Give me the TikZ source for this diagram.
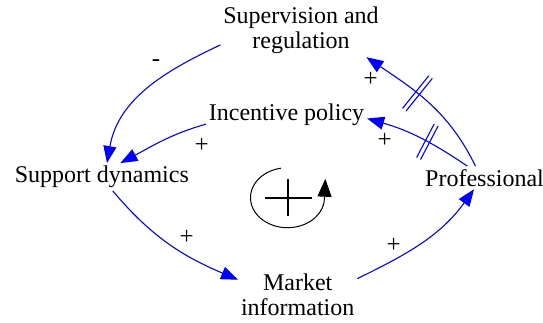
\documentclass[tikz,border=0pt]{standalone}
\usepackage{fontspec}
\setmainfont{Liberation Serif}
\usetikzlibrary{arrows.meta,decorations.markings}
\begin{document}
\begin{tikzpicture}[x=1pt,y=1pt,
  lbl/.style={inner sep=3pt, outer sep=0pt, font=\fontsize{24}{25}\selectfont, align=center, anchor=base},
  sgn/.style={inner sep=0pt, font=\fontsize{25}{25}\selectfont, anchor=base},
  link/.style={draw=blue, line width=1.1pt, -{Triangle[length=17pt,width=13pt]}},
  delay/.style 2 args={postaction={decorate,decoration={markings,mark=at position #1 with {%
      \draw[-,blue,line width=1.1pt] (-2.2pt,-#2)--(-2.2pt,#2) (2.2pt,-#2)--(2.2pt,#2);}}}},
  loopline/.style={draw=black, line width=1pt},
  plusline/.style={draw=black, line width=2.4pt}
]
\useasboundingbox (0,0) rectangle (543,322);

% variables (anchor=base is the baseline of the last line)
\node[lbl] (sup) at (301,273) {Supervision and\\regulation};
\node[lbl] (inc) at (286.5,202) {Incentive policy};
\node[lbl] (sd) at (101.9,139.3) {Support dynamics};
\node[lbl] (prof) at (484.5,136) {Professional};
\node[lbl] (mkt) at (297.7,6.7) {Market\\information};

% links
\draw[link] (sup.190) to[out=205,in=80] (sd.70);
\draw[link] (inc.187) to[out=196,in=28] (sd.37);
\draw[link] (sd.-52) to[out=-50,in=157] (mkt.166);
\draw[link] (mkt.15) to[out=26,in=234] (prof.228);
\draw[link, delay={0.6}{21pt}] (prof.128) to[out=116,in=-34] (sup.-22);
\draw[link, delay={0.42}{19pt}] (prof.146) to[out=146,in=-16] (inc.-3);

% polarities
\node[sgn] (s1) at (156,255.6) {-};
\node[sgn] (s2) at (201.7,169.3) {+};
\node[sgn] (s3) at (186.7,77.7) {+};
\node[sgn] (s4) at (393.7,70) {+};
\node[sgn] (s5) at (370.7,235.3) {+};
\node[sgn] (s6) at (384.7,174.3) {+};

% loop symbol
\coordinate (lc) at (287.5,124.3);
\draw[loopline, -{Triangle[length=18pt,width=14pt]}]
  ([shift={(100:37pt and 30pt)}]lc) arc[start angle=100, end angle=360, x radius=37pt, y radius=30pt]
  -- ++(0.8pt,19pt);
\draw[plusline] ([xshift=-22.5pt]lc) -- ([xshift=24.5pt]lc);
\draw[plusline] ([shift={(0.5pt,-18.3pt)}]lc) -- ([shift={(0.5pt,18.4pt)}]lc);
\end{tikzpicture}
\end{document}
